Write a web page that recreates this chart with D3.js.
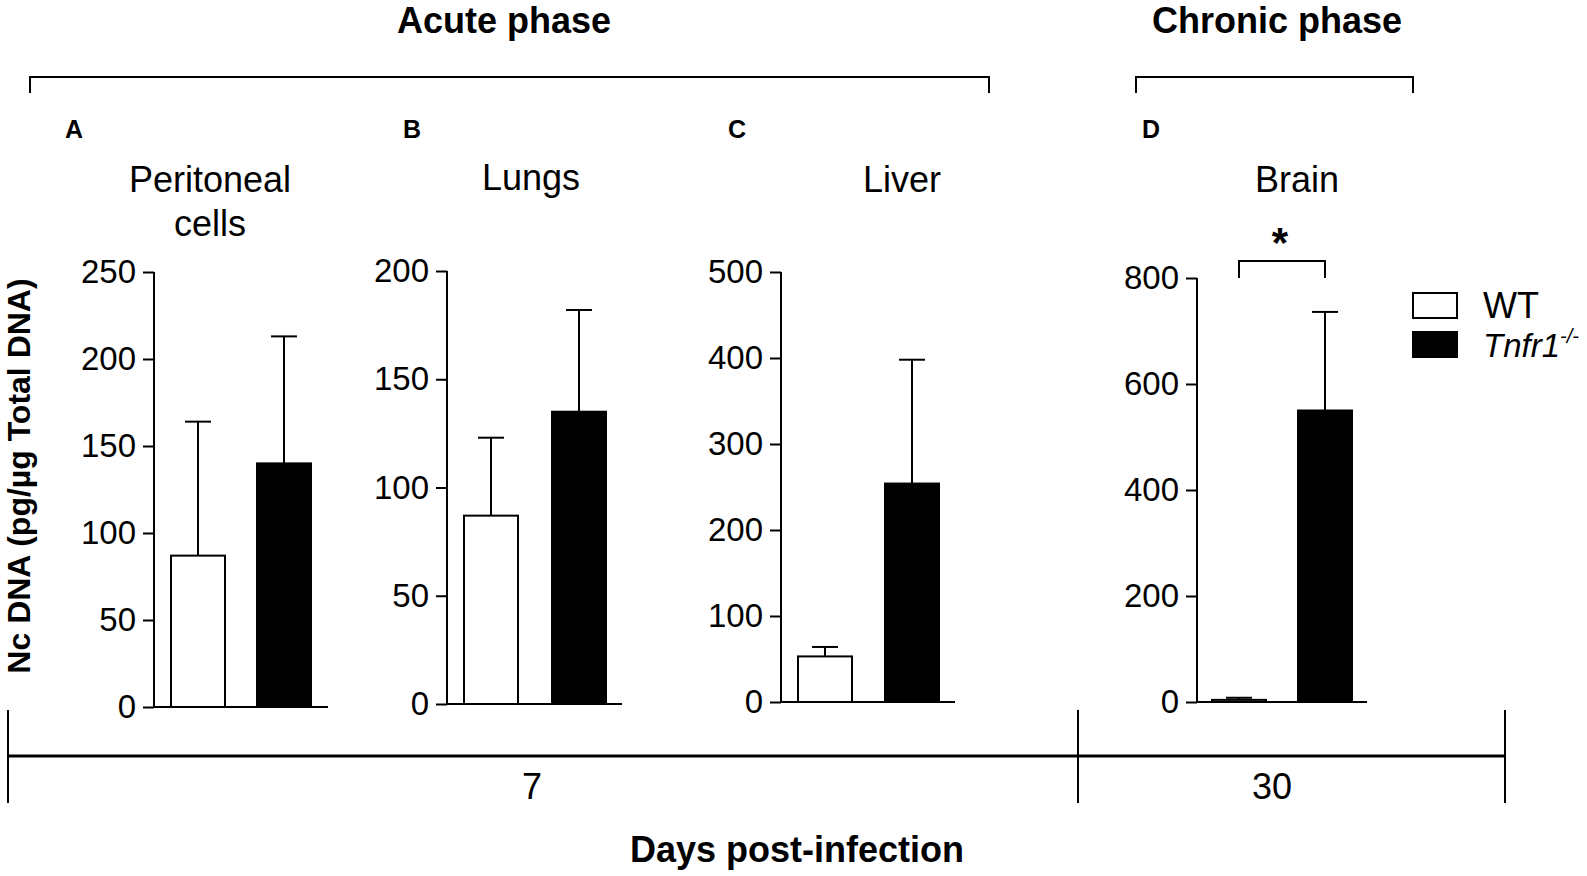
<!DOCTYPE html>
<html>
<head>
<meta charset="utf-8">
<script src="https://cdn.jsdelivr.net/npm/d3@7"></script>
<style>
  body { margin: 0; background: #fff; }
  svg { display: block; font-family: "Liberation Sans", Arial, sans-serif; }
  .axis path, .axis line { stroke: #000; stroke-width: 2px; }
  .axis text { font-size: 33px; fill: #000; }
</style>
</head>
<body>
<svg width="1587" height="876"></svg>
<script>
// data
const letters = ["A", "B", "C", "D"]
const tissues = [["Peritoneal", "cells"], ["Lungs"], ["Liver"], ["Brain"]]
const groups = ["WT", "Tnfr1-/-"]
const wtMean = [87, 87, 53, 4]
const wtUpper = [164, 123, 64, 8]
const koMean = [140, 135, 254, 550]
const koUpper = [213, 182, 398, 736]
const yMax = [250, 200, 500, 800]
const yStep = [50, 50, 100, 200]
const days = ["7", "30"]

// layout
const axisX = [154, 447, 781, 1197]
const topY = [272, 271, 272, 278]
const baseY = [707, 704, 702, 702]
const firstBar = [16, 16, 16, 14]
const barGap = [30, 32, 31, 30]
const axisEnd = [174, 175, 174, 170]
const barW = 56

const svg = d3.select("svg")

// phase headers and brackets
const phases = [
    { name: "Acute phase", cx: 504, x0: 30, x1: 989 },
    { name: "Chronic phase", cx: 1277, x0: 1136, x1: 1413 }
]
phases.forEach(p => {
    svg.append("text")
        .attr("x", p.cx).attr("y", 33)
        .attr("text-anchor", "middle")
        .style("font-size", "36px").style("font-weight", "bold")
        .text(p.name)
    svg.append("path")
        .attr("d", `M${p.x0},93V77H${p.x1}V93`)
        .attr("fill", "none").attr("stroke", "#000").attr("stroke-width", 2)
})

const letterX = [74, 412, 737, 1151]
const titleX = [210, 531, 902, 1297]

letters.forEach((L, i) => {
    const y = d3.scaleLinear().domain([0, yMax[i]]).range([baseY[i], topY[i]])
    const inner = barGap[i] / (barW + barGap[i])
    const span = barW * 2 + barGap[i]
    const x = d3.scaleBand()
        .domain(groups)
        .range([axisX[i] + firstBar[i], axisX[i] + firstBar[i] + span])
        .paddingInner(inner)

    const g = svg.append("g")

    g.append("text")
        .attr("x", letterX[i]).attr("y", 138)
        .attr("text-anchor", "middle")
        .style("font-size", "25px").style("font-weight", "bold")
        .text(L)

    tissues[i].forEach((t, k) => {
        g.append("text")
            .attr("x", titleX[i]).attr("y", 192 + k * 44 - (i == 1 ? 2 : 0))
            .attr("text-anchor", "middle")
            .style("font-size", "36px")
            .text(t)
    })

    g.append("g")
        .attr("class", "axis")
        .attr("transform", `translate(${axisX[i]},0)`)
        .call(d3.axisLeft(y).tickValues(d3.range(0, yMax[i] + 1, yStep[i])).tickSize(11).tickPadding(7).tickSizeOuter(0))
        .call(a => a.select(".domain").attr("d", `M0,${topY[i]}V${baseY[i]}`))

    // baseline
    g.append("line")
        .attr("x1", axisX[i]).attr("x2", axisX[i] + axisEnd[i])
        .attr("y1", baseY[i]).attr("y2", baseY[i])
        .attr("stroke", "#000").attr("stroke-width", 2)

    const rows = [
        { grp: groups[0], mean: wtMean[i], up: wtUpper[i], fill: "#fff" },
        { grp: groups[1], mean: koMean[i], up: koUpper[i], fill: "#000" }
    ]

    rows.forEach(r => {
        const cx = x(r.grp) + x.bandwidth() / 2
        g.append("line")
            .attr("x1", cx).attr("x2", cx)
            .attr("y1", y(r.mean)).attr("y2", y(r.up))
            .attr("stroke", "#000").attr("stroke-width", 2)
        g.append("line")
            .attr("x1", cx - 13).attr("x2", cx + 13)
            .attr("y1", y(r.up)).attr("y2", y(r.up))
            .attr("stroke", "#000").attr("stroke-width", 2)
        g.append("rect")
            .attr("x", x(r.grp) + 1).attr("width", x.bandwidth() - 2)
            .attr("y", y(r.mean)).attr("height", baseY[i] - y(r.mean))
            .attr("fill", r.fill).attr("stroke", "#000").attr("stroke-width", 2)
    })

    // significance bracket for brain
    if (i == 3) {
        const a = x(groups[0]) + x.bandwidth() / 2
        const b = x(groups[1]) + x.bandwidth() / 2
        const yb = y(yMax[i]) - 17
        g.append("path")
            .attr("d", `M${a},${y(yMax[i])}V${yb}H${b}V${y(yMax[i])}`)
            .attr("fill", "none").attr("stroke", "#000").attr("stroke-width", 2)
        g.append("text")
            .attr("x", (a + b) / 2 - 2).attr("y", yb - 4)
            .attr("text-anchor", "middle")
            .style("font-size", "42px").style("font-weight", "bold")
            .text("*")
    }
})

// y axis title
svg.append("text")
    .attr("transform", "translate(30,476) rotate(-90)")
    .attr("text-anchor", "middle")
    .style("font-size", "32px").style("font-weight", "bold")
    .text("Nc DNA (pg/\u00b5g Total DNA)")

// legend
const legend = svg.append("g").attr("transform", "translate(1412,292)")
groups.forEach((gname, k) => {
    legend.append("rect")
        .attr("x", 1).attr("y", k * 39 + 1)
        .attr("width", 44).attr("height", 25)
        .attr("fill", k == 0 ? "#fff" : "#000")
        .attr("stroke", "#000").attr("stroke-width", 2)
    const t = legend.append("text")
        .attr("x", 71).attr("y", k * 39 + 26)
        .style("font-size", "36px")
    if (k == 0) {
        t.text(gname)
    } else {
        t.append("tspan").style("font-style", "italic").style("font-size", "33px").text("Tnfr1")
        t.append("tspan").style("font-style", "italic").style("font-size", "20px")
            .attr("dy", -14).text("-/-")
    }
})

// days post-infection axis
const dayEdges = [8, 1078, 1505]
const xDays = d3.scaleOrdinal().domain(days).range([532, 1272])
svg.append("line")
    .attr("x1", dayEdges[0]).attr("x2", dayEdges[2])
    .attr("y1", 756).attr("y2", 756)
    .attr("stroke", "#000").attr("stroke-width", 3)
dayEdges.forEach(e => {
    svg.append("line")
        .attr("x1", e).attr("x2", e)
        .attr("y1", 710).attr("y2", 803)
        .attr("stroke", "#000").attr("stroke-width", 2)
})
days.forEach(d => {
    svg.append("text")
        .attr("x", xDays(d)).attr("y", 799)
        .attr("text-anchor", "middle")
        .style("font-size", "36px")
        .text(d)
})
svg.append("text")
    .attr("x", 797).attr("y", 862)
    .attr("text-anchor", "middle")
    .style("font-size", "36px").style("font-weight", "bold")
    .text("Days post-infection")
</script>
</body>
</html>
